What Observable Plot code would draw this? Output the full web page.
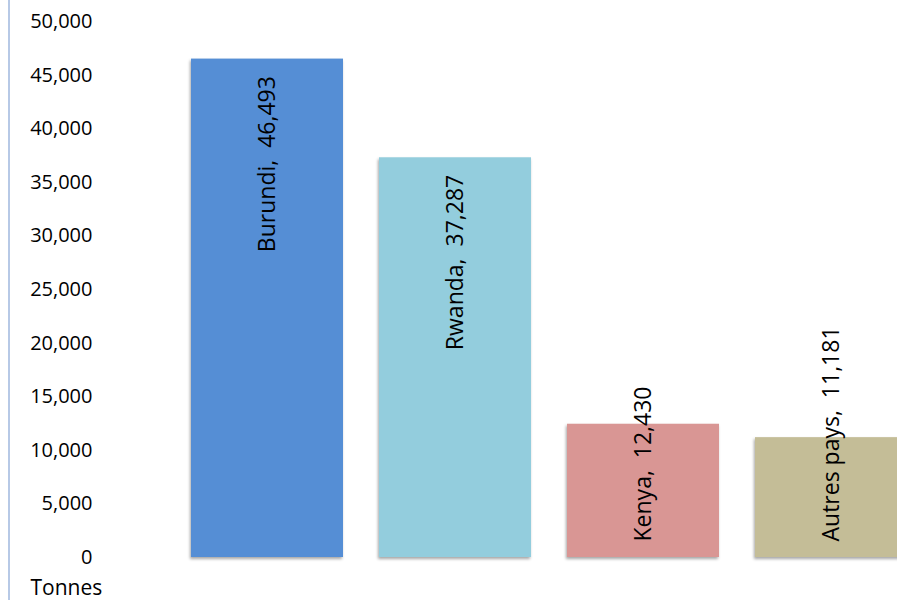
<!DOCTYPE html>
<html>
<head>
<meta charset="utf-8">
<script src="https://cdn.jsdelivr.net/npm/d3@7"></script>
<script src="https://cdn.jsdelivr.net/npm/@observablehq/plot@0.6"></script>
<style>
  body { margin: 0; background: #fff; }
  #wrap { position: relative; width: 897px; height: 600px; overflow: hidden; }
  #vline { position: absolute; left: 8px; top: 0; width: 2px; height: 600px; background: #B7C9E6; }
  g[aria-label="bar"] rect { filter: drop-shadow(-1px 2px 1.5px rgba(0,0,0,0.35)); }
</style>
</head>
<body>
<div id="wrap"><div id="vline"></div></div>
<script>
const countries = ["Burundi", "Rwanda", "Kenya", "Autres pays"];
const tonnes = [46493, 37287, 12430, 11181];
const colors = ["#558ED5", "#93CDDD", "#D99694", "#C4BD97"];
const yTicks = [0, 5000, 10000, 15000, 20000, 25000, 30000, 35000, 40000, 45000, 50000];
const unitLabel = "Tonnes";
const insideEnd = ["Burundi", "Rwanda"];

const data = countries.map((c, i) => ({country: c, value: tonnes[i], color: colors[i]}));
const fmt = d3.format(",");
const labelOf = d => `${d.country},  ${fmt(d.value)}`;

const chart = Plot.plot({
  width: 897,
  height: 600,
  marginTop: 21,
  marginBottom: 43,
  marginLeft: 100,
  marginRight: 0,
  style: {fontFamily: "'Open Sans', sans-serif", fontSize: "20px", color: "#000", background: "transparent"},
  x: {domain: countries, range: [173, 925], paddingInner: 0.19, paddingOuter: 0.095, axis: null},
  y: {domain: [0, 50000], label: null},
  marks: [
    Plot.axisY({ticks: yTicks, tickFormat: fmt, tickSize: 0, tickPadding: 8, label: null, fontSize: 20, fill: "#000"}),
    Plot.barY(data, {x: "country", y: "value", fill: "color"}),
    Plot.text(data.filter(d => insideEnd.includes(d.country)), {
      x: "country", y: "value", text: labelOf, rotate: -90, textAnchor: "end", lineAnchor: "middle", dy: 17, fill: "#000", fontSize: 23
    }),
    Plot.text(data.filter(d => !insideEnd.includes(d.country)), {
      x: "country", y: () => 0, text: labelOf, rotate: -90, textAnchor: "start", lineAnchor: "middle", dy: -16, fill: "#000", fontSize: 23
    }),
    Plot.text([unitLabel], {frameAnchor: "bottom-left", text: d => d, dx: -70, dy: 37, fill: "#000", fontSize: 21})
  ]
});
document.getElementById("wrap").appendChild(chart);
</script>
</body>
</html>
